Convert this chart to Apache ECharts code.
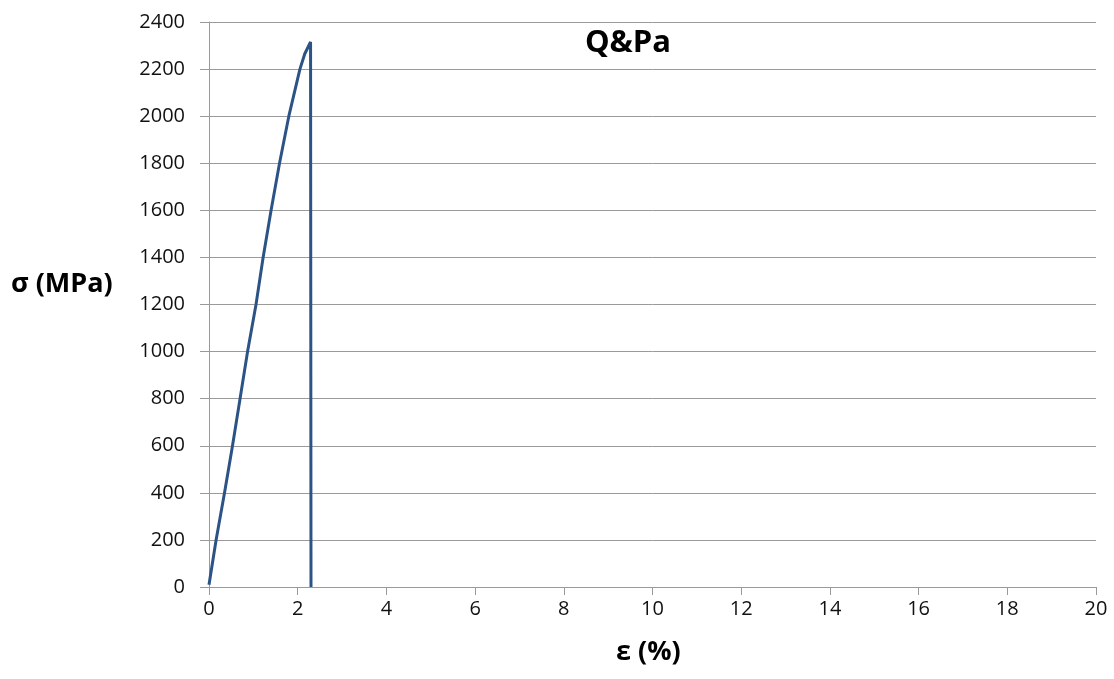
<!DOCTYPE html>
<html>
<head>
<meta charset="utf-8">
<script src="https://cdn.jsdelivr.net/npm/echarts@6/dist/echarts.min.js"></script>
<style>html,body{margin:0;padding:0;background:#fff}#c{width:1114px;height:679px}</style>
</head>
<body>
<div id="c"></div>
<script>
const strain = [0, 0.16, 0.35, 0.53, 0.70, 0.87, 1.06, 1.22, 1.40, 1.59, 1.80, 2.05, 2.16, 2.29, 2.30];
const stress = [10, 200, 400, 600, 800, 1000, 1200, 1400, 1600, 1800, 2000, 2200, 2265, 2315, 0];
const seriesName = 'Q&Pa';
const xTitle = 'ε (%)';
const yTitle = 'σ (MPa)';

const data = strain.map((x, i) => [x, stress[i]]);
const font = '"Open Sans", "Liberation Sans", sans-serif';
const chart = echarts.init(document.getElementById('c'), null, {renderer: 'canvas'});
chart.setOption({
  animation: false,
  backgroundColor: '#fff',
  title: {text: seriesName, left: 623, top: 23, textAlign: 'center',
    textStyle: {fontFamily: font, fontSize: 31, fontWeight: 'bold', color: '#000'}},
  grid: {left: 209, right: 18, top: 22, bottom: 92, containLabel: false},
  xAxis: {type: 'value', min: 0, max: 20, interval: 2,
    axisLine: {lineStyle: {color: '#9a9a9a', width: 1}},
    axisTick: {show: true, length: 8, lineStyle: {color: '#9a9a9a'}},
    splitLine: {show: false},
    axisLabel: {fontFamily: font, fontSize: 20, color: '#111', margin: 12,
      formatter: v => String(v)}},
  yAxis: {type: 'value', min: 0, max: 2400, interval: 200,
    axisLine: {show: true, onZero: false, lineStyle: {color: '#9a9a9a', width: 1}},
    axisTick: {show: true, inside: false, length: 9, lineStyle: {color: '#9a9a9a', width: 1}},
    splitLine: {show: true, lineStyle: {color: '#9a9a9a', width: 1}},
    axisLabel: {fontFamily: font, fontSize: 20, color: '#111', margin: 24,
      formatter: v => String(v)}},
  graphic: [
    {type: 'text', left: 11, top: 271, style: {text: yTitle, font: 'bold 27px ' + font, fill: '#000'}},
    {type: 'text', left: 616, top: 639, style: {text: xTitle, font: 'bold 27px ' + font, fill: '#000'}}
  ],
  series: [{name: seriesName, type: 'line', data: data, showSymbol: false, smooth: false,
    lineStyle: {color: '#2c5385', width: 3}}]
});
</script>
</body>
</html>
